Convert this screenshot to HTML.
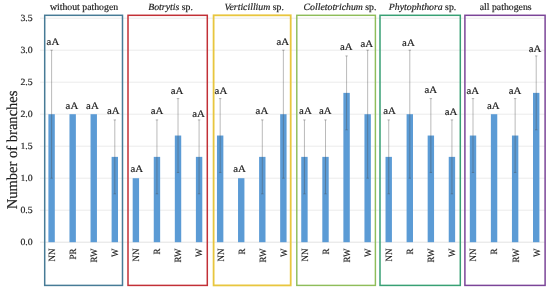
<!DOCTYPE html>
<html><head><meta charset="utf-8"><title>chart</title>
<style>
html,body{margin:0;padding:0;background:#fff;}
body{width:550px;height:292px;overflow:hidden;font-family:"Liberation Serif",serif;}
svg{display:block;will-change:transform;opacity:0.999}
text{font-family:"Liberation Serif",serif;fill:#1c1c1c;stroke:#1c1c1c;stroke-width:0.18px;text-rendering:geometricPrecision}
</style></head><body>
<svg width="550" height="292" viewBox="0 0 550 292">
<rect width="550" height="292" fill="#fff"/>

<line x1="40" x2="545" y1="242.20" y2="242.20" stroke="#d6d6d6" stroke-width="0.7"/>
<text transform="translate(32.7,245.30) scale(1.03,1)" font-size="9.5" text-anchor="end">0.0</text>
<line x1="40" x2="545" y1="210.20" y2="210.20" stroke="#e2e2e2" stroke-width="0.7"/>
<text transform="translate(32.7,213.30) scale(1.03,1)" font-size="9.5" text-anchor="end">0.5</text>
<line x1="40" x2="545" y1="178.20" y2="178.20" stroke="#e2e2e2" stroke-width="0.7"/>
<text transform="translate(32.7,181.30) scale(1.03,1)" font-size="9.5" text-anchor="end">1.0</text>
<line x1="40" x2="545" y1="146.20" y2="146.20" stroke="#e2e2e2" stroke-width="0.7"/>
<text transform="translate(32.7,149.30) scale(1.03,1)" font-size="9.5" text-anchor="end">1.5</text>
<line x1="40" x2="545" y1="114.20" y2="114.20" stroke="#e2e2e2" stroke-width="0.7"/>
<text transform="translate(32.7,117.30) scale(1.03,1)" font-size="9.5" text-anchor="end">2.0</text>
<line x1="40" x2="545" y1="82.20" y2="82.20" stroke="#e2e2e2" stroke-width="0.7"/>
<text transform="translate(32.7,85.30) scale(1.03,1)" font-size="9.5" text-anchor="end">2.5</text>
<line x1="40" x2="545" y1="50.20" y2="50.20" stroke="#e2e2e2" stroke-width="0.7"/>
<text transform="translate(32.7,53.30) scale(1.03,1)" font-size="9.5" text-anchor="end">3.0</text>
<line x1="40" x2="545" y1="18.20" y2="18.20" stroke="#e2e2e2" stroke-width="0.7"/>
<text transform="translate(32.7,21.30) scale(1.03,1)" font-size="9.5" text-anchor="end">3.5</text>
<text transform="translate(16.55,149.9) scale(1.035,1) rotate(-90)" font-size="14.55" stroke-width="0.45" text-anchor="middle">Number of branches</text>
<rect x="48.40" y="114.20" width="6.4" height="128.00" fill="#5b9bd5"/>
<g stroke="#4a4a4a" stroke-width="0.7" stroke-opacity="0.55"><line x1="51.60" x2="51.60" y1="50.20" y2="178.20"/><line x1="50.40" x2="52.80" y1="50.20" y2="50.20"/><line x1="50.40" x2="52.80" y1="178.20" y2="178.20"/></g>
<text transform="translate(52.90,45.10) scale(1.08,1)" font-size="10" text-anchor="middle">aA</text>
<text transform="translate(55.00,248.6) scale(1.06,1) rotate(-90)" font-size="9" text-anchor="end">NN</text>
<rect x="69.47" y="114.20" width="6.4" height="128.00" fill="#5b9bd5"/>
<text transform="translate(71.90,108.90) scale(1.08,1)" font-size="10" text-anchor="middle">aA</text>
<text transform="translate(76.07,248.6) scale(1.06,1) rotate(-90)" font-size="9" text-anchor="end">PR</text>
<rect x="90.54" y="114.20" width="6.4" height="128.00" fill="#5b9bd5"/>
<text transform="translate(92.40,108.90) scale(1.08,1)" font-size="10" text-anchor="middle">aA</text>
<text transform="translate(97.14,248.6) scale(1.06,1) rotate(-90)" font-size="9" text-anchor="end">RW</text>
<rect x="111.61" y="156.87" width="6.4" height="85.33" fill="#5b9bd5"/>
<g stroke="#4a4a4a" stroke-width="0.7" stroke-opacity="0.55"><line x1="114.81" x2="114.81" y1="119.92" y2="193.82"/><line x1="113.61" x2="116.01" y1="119.92" y2="119.92"/><line x1="113.61" x2="116.01" y1="193.82" y2="193.82"/></g>
<text transform="translate(113.30,114.30) scale(1.08,1)" font-size="10" text-anchor="middle">aA</text>
<text transform="translate(118.21,248.6) scale(1.06,1) rotate(-90)" font-size="9" text-anchor="end">W</text>
<rect x="44.70" y="15.3" width="77.80" height="270.10" fill="none" stroke="#477b96" stroke-width="1.5"/>
<text transform="translate(84.00,10.4) scale(1.02,1)" font-size="9.6" stroke-width="0.25" text-anchor="middle">without pathogen</text>
<rect x="132.68" y="178.20" width="6.4" height="64.00" fill="#5b9bd5"/>
<text transform="translate(136.80,172.20) scale(1.08,1)" font-size="10" text-anchor="middle">aA</text>
<text transform="translate(139.28,248.6) scale(1.06,1) rotate(-90)" font-size="9" text-anchor="end">NN</text>
<rect x="153.75" y="156.87" width="6.4" height="85.33" fill="#5b9bd5"/>
<g stroke="#4a4a4a" stroke-width="0.7" stroke-opacity="0.55"><line x1="156.95" x2="156.95" y1="119.92" y2="193.82"/><line x1="155.75" x2="158.15" y1="119.92" y2="119.92"/><line x1="155.75" x2="158.15" y1="193.82" y2="193.82"/></g>
<text transform="translate(157.00,114.00) scale(1.08,1)" font-size="10" text-anchor="middle">aA</text>
<text transform="translate(160.35,248.6) scale(1.06,1) rotate(-90)" font-size="9" text-anchor="end">R</text>
<rect x="174.82" y="135.53" width="6.4" height="106.67" fill="#5b9bd5"/>
<g stroke="#4a4a4a" stroke-width="0.7" stroke-opacity="0.55"><line x1="178.02" x2="178.02" y1="98.58" y2="172.48"/><line x1="176.82" x2="179.22" y1="98.58" y2="98.58"/><line x1="176.82" x2="179.22" y1="172.48" y2="172.48"/></g>
<text transform="translate(177.00,93.50) scale(1.08,1)" font-size="10" text-anchor="middle">aA</text>
<text transform="translate(181.42,248.6) scale(1.06,1) rotate(-90)" font-size="9" text-anchor="end">RW</text>
<rect x="195.89" y="156.87" width="6.4" height="85.33" fill="#5b9bd5"/>
<g stroke="#4a4a4a" stroke-width="0.7" stroke-opacity="0.55"><line x1="199.09" x2="199.09" y1="119.92" y2="193.82"/><line x1="197.89" x2="200.29" y1="119.92" y2="119.92"/><line x1="197.89" x2="200.29" y1="193.82" y2="193.82"/></g>
<text transform="translate(198.50,116.50) scale(1.08,1)" font-size="10" text-anchor="middle">aA</text>
<text transform="translate(202.49,248.6) scale(1.06,1) rotate(-90)" font-size="9" text-anchor="end">W</text>
<rect x="128.00" y="15.3" width="79.30" height="270.10" fill="none" stroke="#c23036" stroke-width="1.5"/>
<text transform="translate(170.55,10.4) scale(1.02,1)" font-size="9.6" stroke-width="0.25" text-anchor="middle"><tspan font-style="italic">Botrytis</tspan> sp.</text>
<rect x="216.96" y="135.53" width="6.4" height="106.67" fill="#5b9bd5"/>
<g stroke="#4a4a4a" stroke-width="0.7" stroke-opacity="0.55"><line x1="220.16" x2="220.16" y1="98.58" y2="172.48"/><line x1="218.96" x2="221.36" y1="98.58" y2="98.58"/><line x1="218.96" x2="221.36" y1="172.48" y2="172.48"/></g>
<text transform="translate(220.90,93.90) scale(1.08,1)" font-size="10" text-anchor="middle">aA</text>
<text transform="translate(223.56,248.6) scale(1.06,1) rotate(-90)" font-size="9" text-anchor="end">NN</text>
<rect x="238.03" y="178.20" width="6.4" height="64.00" fill="#5b9bd5"/>
<text transform="translate(239.60,171.80) scale(1.08,1)" font-size="10" text-anchor="middle">aA</text>
<text transform="translate(244.63,248.6) scale(1.06,1) rotate(-90)" font-size="9" text-anchor="end">R</text>
<rect x="259.10" y="156.87" width="6.4" height="85.33" fill="#5b9bd5"/>
<g stroke="#4a4a4a" stroke-width="0.7" stroke-opacity="0.55"><line x1="262.30" x2="262.30" y1="119.92" y2="193.82"/><line x1="261.10" x2="263.50" y1="119.92" y2="119.92"/><line x1="261.10" x2="263.50" y1="193.82" y2="193.82"/></g>
<text transform="translate(261.90,113.60) scale(1.08,1)" font-size="10" text-anchor="middle">aA</text>
<text transform="translate(265.70,248.6) scale(1.06,1) rotate(-90)" font-size="9" text-anchor="end">RW</text>
<rect x="280.17" y="114.20" width="6.4" height="128.00" fill="#5b9bd5"/>
<g stroke="#4a4a4a" stroke-width="0.7" stroke-opacity="0.55"><line x1="283.37" x2="283.37" y1="50.20" y2="178.20"/><line x1="282.17" x2="284.57" y1="50.20" y2="50.20"/><line x1="282.17" x2="284.57" y1="178.20" y2="178.20"/></g>
<text transform="translate(282.70,45.10) scale(1.08,1)" font-size="10" text-anchor="middle">aA</text>
<text transform="translate(286.77,248.6) scale(1.06,1) rotate(-90)" font-size="9" text-anchor="end">W</text>
<rect x="213.60" y="15.3" width="77.10" height="270.10" fill="none" stroke="#e8c63e" stroke-width="1.8"/>
<text transform="translate(254.25,10.4) scale(1.02,1)" font-size="9.6" stroke-width="0.25" text-anchor="middle"><tspan font-style="italic">Verticillium</tspan> sp.</text>
<rect x="301.24" y="156.87" width="6.4" height="85.33" fill="#5b9bd5"/>
<g stroke="#4a4a4a" stroke-width="0.7" stroke-opacity="0.55"><line x1="304.44" x2="304.44" y1="119.92" y2="193.82"/><line x1="303.24" x2="305.64" y1="119.92" y2="119.92"/><line x1="303.24" x2="305.64" y1="193.82" y2="193.82"/></g>
<text transform="translate(305.40,114.10) scale(1.08,1)" font-size="10" text-anchor="middle">aA</text>
<text transform="translate(307.84,248.6) scale(1.06,1) rotate(-90)" font-size="9" text-anchor="end">NN</text>
<rect x="322.31" y="156.87" width="6.4" height="85.33" fill="#5b9bd5"/>
<g stroke="#4a4a4a" stroke-width="0.7" stroke-opacity="0.55"><line x1="325.51" x2="325.51" y1="119.92" y2="193.82"/><line x1="324.31" x2="326.71" y1="119.92" y2="119.92"/><line x1="324.31" x2="326.71" y1="193.82" y2="193.82"/></g>
<text transform="translate(325.30,114.10) scale(1.08,1)" font-size="10" text-anchor="middle">aA</text>
<text transform="translate(328.91,248.6) scale(1.06,1) rotate(-90)" font-size="9" text-anchor="end">R</text>
<rect x="343.38" y="92.87" width="6.4" height="149.33" fill="#5b9bd5"/>
<g stroke="#4a4a4a" stroke-width="0.7" stroke-opacity="0.55"><line x1="346.58" x2="346.58" y1="55.92" y2="129.82"/><line x1="345.38" x2="347.78" y1="55.92" y2="55.92"/><line x1="345.38" x2="347.78" y1="129.82" y2="129.82"/></g>
<text transform="translate(346.20,50.00) scale(1.08,1)" font-size="10" text-anchor="middle">aA</text>
<text transform="translate(349.98,248.6) scale(1.06,1) rotate(-90)" font-size="9" text-anchor="end">RW</text>
<rect x="364.45" y="114.20" width="6.4" height="128.00" fill="#5b9bd5"/>
<g stroke="#4a4a4a" stroke-width="0.7" stroke-opacity="0.55"><line x1="367.65" x2="367.65" y1="50.20" y2="178.20"/><line x1="366.45" x2="368.85" y1="50.20" y2="50.20"/><line x1="366.45" x2="368.85" y1="178.20" y2="178.20"/></g>
<text transform="translate(366.70,46.70) scale(1.08,1)" font-size="10" text-anchor="middle">aA</text>
<text transform="translate(371.05,248.6) scale(1.06,1) rotate(-90)" font-size="9" text-anchor="end">W</text>
<rect x="296.80" y="15.3" width="78.60" height="270.10" fill="none" stroke="#8fbd5a" stroke-width="1.45"/>
<text transform="translate(340.00,10.4) scale(1.02,1)" font-size="9.6" stroke-width="0.25" text-anchor="middle"><tspan font-style="italic">Colletotrichum</tspan> sp.</text>
<rect x="385.52" y="156.87" width="6.4" height="85.33" fill="#5b9bd5"/>
<g stroke="#4a4a4a" stroke-width="0.7" stroke-opacity="0.55"><line x1="388.72" x2="388.72" y1="119.92" y2="193.82"/><line x1="387.52" x2="389.92" y1="119.92" y2="119.92"/><line x1="387.52" x2="389.92" y1="193.82" y2="193.82"/></g>
<text transform="translate(389.50,114.10) scale(1.08,1)" font-size="10" text-anchor="middle">aA</text>
<text transform="translate(392.12,248.6) scale(1.06,1) rotate(-90)" font-size="9" text-anchor="end">NN</text>
<rect x="406.59" y="114.20" width="6.4" height="128.00" fill="#5b9bd5"/>
<g stroke="#4a4a4a" stroke-width="0.7" stroke-opacity="0.55"><line x1="409.79" x2="409.79" y1="50.20" y2="178.20"/><line x1="408.59" x2="410.99" y1="50.20" y2="50.20"/><line x1="408.59" x2="410.99" y1="178.20" y2="178.20"/></g>
<text transform="translate(408.40,45.90) scale(1.08,1)" font-size="10" text-anchor="middle">aA</text>
<text transform="translate(413.19,248.6) scale(1.06,1) rotate(-90)" font-size="9" text-anchor="end">R</text>
<rect x="427.66" y="135.53" width="6.4" height="106.67" fill="#5b9bd5"/>
<g stroke="#4a4a4a" stroke-width="0.7" stroke-opacity="0.55"><line x1="430.86" x2="430.86" y1="98.58" y2="172.48"/><line x1="429.66" x2="432.06" y1="98.58" y2="98.58"/><line x1="429.66" x2="432.06" y1="172.48" y2="172.48"/></g>
<text transform="translate(430.80,93.30) scale(1.08,1)" font-size="10" text-anchor="middle">aA</text>
<text transform="translate(434.26,248.6) scale(1.06,1) rotate(-90)" font-size="9" text-anchor="end">RW</text>
<rect x="448.73" y="156.87" width="6.4" height="85.33" fill="#5b9bd5"/>
<g stroke="#4a4a4a" stroke-width="0.7" stroke-opacity="0.55"><line x1="451.93" x2="451.93" y1="119.92" y2="193.82"/><line x1="450.73" x2="453.13" y1="119.92" y2="119.92"/><line x1="450.73" x2="453.13" y1="193.82" y2="193.82"/></g>
<text transform="translate(451.10,115.40) scale(1.08,1)" font-size="10" text-anchor="middle">aA</text>
<text transform="translate(455.33,248.6) scale(1.06,1) rotate(-90)" font-size="9" text-anchor="end">W</text>
<rect x="380.00" y="15.3" width="80.30" height="270.10" fill="none" stroke="#38a074" stroke-width="1.5"/>
<text transform="translate(422.55,10.4) scale(1.02,1)" font-size="9.6" stroke-width="0.25" text-anchor="middle"><tspan font-style="italic">Phytophthora</tspan> sp.</text>
<rect x="469.80" y="135.53" width="6.4" height="106.67" fill="#5b9bd5"/>
<g stroke="#4a4a4a" stroke-width="0.7" stroke-opacity="0.55"><line x1="473.00" x2="473.00" y1="98.58" y2="172.48"/><line x1="471.80" x2="474.20" y1="98.58" y2="98.58"/><line x1="471.80" x2="474.20" y1="172.48" y2="172.48"/></g>
<text transform="translate(472.70,93.60) scale(1.08,1)" font-size="10" text-anchor="middle">aA</text>
<text transform="translate(476.40,248.6) scale(1.06,1) rotate(-90)" font-size="9" text-anchor="end">NN</text>
<rect x="490.87" y="114.20" width="6.4" height="128.00" fill="#5b9bd5"/>
<text transform="translate(493.30,109.20) scale(1.08,1)" font-size="10" text-anchor="middle">aA</text>
<text transform="translate(497.47,248.6) scale(1.06,1) rotate(-90)" font-size="9" text-anchor="end">R</text>
<rect x="511.94" y="135.53" width="6.4" height="106.67" fill="#5b9bd5"/>
<g stroke="#4a4a4a" stroke-width="0.7" stroke-opacity="0.55"><line x1="515.14" x2="515.14" y1="98.58" y2="172.48"/><line x1="513.94" x2="516.34" y1="98.58" y2="98.58"/><line x1="513.94" x2="516.34" y1="172.48" y2="172.48"/></g>
<text transform="translate(515.00,93.90) scale(1.08,1)" font-size="10" text-anchor="middle">aA</text>
<text transform="translate(518.54,248.6) scale(1.06,1) rotate(-90)" font-size="9" text-anchor="end">RW</text>
<rect x="533.01" y="92.87" width="6.4" height="149.33" fill="#5b9bd5"/>
<g stroke="#4a4a4a" stroke-width="0.7" stroke-opacity="0.55"><line x1="536.21" x2="536.21" y1="55.92" y2="129.82"/><line x1="535.01" x2="537.41" y1="55.92" y2="55.92"/><line x1="535.01" x2="537.41" y1="129.82" y2="129.82"/></g>
<text transform="translate(535.00,51.80) scale(1.08,1)" font-size="10" text-anchor="middle">aA</text>
<text transform="translate(539.61,248.6) scale(1.06,1) rotate(-90)" font-size="9" text-anchor="end">W</text>
<rect x="464.90" y="15.3" width="80.20" height="270.10" fill="none" stroke="#7b4598" stroke-width="1.5"/>
<text transform="translate(505.70,10.4) scale(1.02,1)" font-size="9.6" stroke-width="0.25" text-anchor="middle">all pathogens</text>
</svg></body></html>
